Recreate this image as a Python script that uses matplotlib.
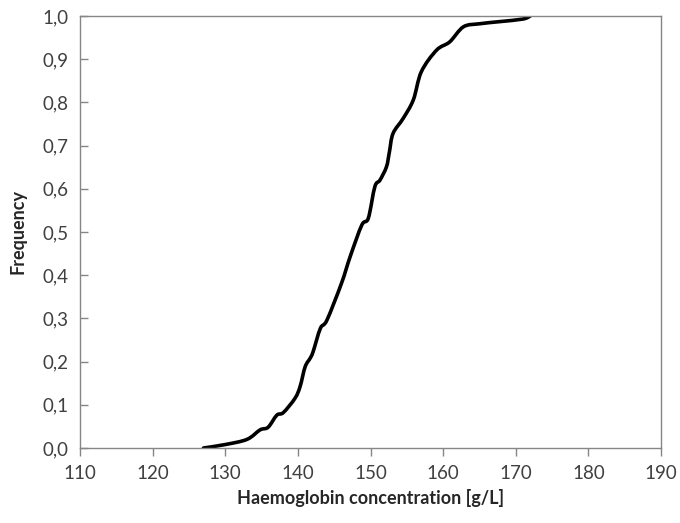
import matplotlib
matplotlib.use('Agg')
import matplotlib.pyplot as plt
from matplotlib.path import Path
from matplotlib.patches import PathPatch
from matplotlib.ticker import FuncFormatter

# Кумулятивная частота концентрации гемоглобина
hb = [127.0, 130.0, 133.0, 134.8, 135.9, 137.1, 138.0, 139.6, 140.3, 141.0,
      141.7, 142.1, 143.1, 144.0, 146.0, 147.2, 148.8, 149.7, 150.6, 151.3,
      152.2, 152.6, 153.1, 154.5, 155.9, 157.0, 159.1, 160.9, 162.8, 165.0,
      167.8, 171.0, 172.0]
freq = [0.000, 0.008, 0.020, 0.042, 0.048, 0.076, 0.082, 0.115, 0.142, 0.188,
        0.208, 0.223, 0.277, 0.296, 0.381, 0.443, 0.516, 0.532, 0.605, 0.620,
        0.651, 0.685, 0.728, 0.763, 0.806, 0.871, 0.921, 0.940, 0.975, 0.982,
        0.987, 0.993, 1.000]

x_ticks = [110, 120, 130, 140, 150, 160, 170, 180, 190]
y_ticks = [0.0, 0.1, 0.2, 0.3, 0.4, 0.5, 0.6, 0.7, 0.8, 0.9, 1.0]


# Сглаженная линия как в Excel: сегменты Безье по точкам данных
def smooth_path(xs, ys, k=1 / 6):
    n = len(xs)
    verts = [(xs[0], ys[0])]
    codes = [Path.MOVETO]
    for i in range(n - 1):
        x0, y0 = (xs[i - 1], ys[i - 1]) if i > 0 else (xs[i], ys[i])
        x1, y1 = xs[i], ys[i]
        x2, y2 = xs[i + 1], ys[i + 1]
        x3, y3 = (xs[i + 2], ys[i + 2]) if i + 2 < n else (x2, y2)
        verts += [(x1 + (x2 - x0) * k, y1 + (y2 - y0) * k),
                  (x2 - (x3 - x1) * k, y2 - (y3 - y1) * k),
                  (x2, y2)]
        codes += [Path.CURVE4] * 3
    return Path(verts, codes)


plt.rcParams['font.family'] = ['Lato', 'DejaVu Sans']

fig = plt.figure(figsize=(6.8, 5.23), dpi=100)
ax = fig.add_axes([80 / 680, 1 - 448 / 523, 581 / 680, 432 / 523])

ax.add_patch(PathPatch(smooth_path(hb, freq), facecolor='none', edgecolor='black',
                       linewidth=2.6, capstyle='round', joinstyle='round'))

ax.set_xlim(110, 190)
ax.set_ylim(0, 1)
ax.set_xticks(x_ticks)
ax.set_yticks(y_ticks)
ax.yaxis.set_major_formatter(FuncFormatter(lambda v, p: f'{v:.1f}'.replace('.', ',')))

for s in ax.spines.values():
    s.set_color('#868686')
    s.set_linewidth(1.0)

ax.tick_params(axis='x', direction='out', length=6, width=1, color='#868686',
               labelsize=13.5, labelcolor='#404040', pad=6)
ax.tick_params(axis='y', direction='in', length=6, width=1, color='#868686',
               labelsize=13.5, labelcolor='#404040', pad=8)

ax.set_xlabel('Haemoglobin concentration [g/L]', fontsize=13, fontweight='bold',
              color='#262626', labelpad=5)
ax.set_ylabel('Frequency', fontsize=13, fontweight='bold', color='#262626', labelpad=12)

fig.savefig('out.png', dpi=100)
